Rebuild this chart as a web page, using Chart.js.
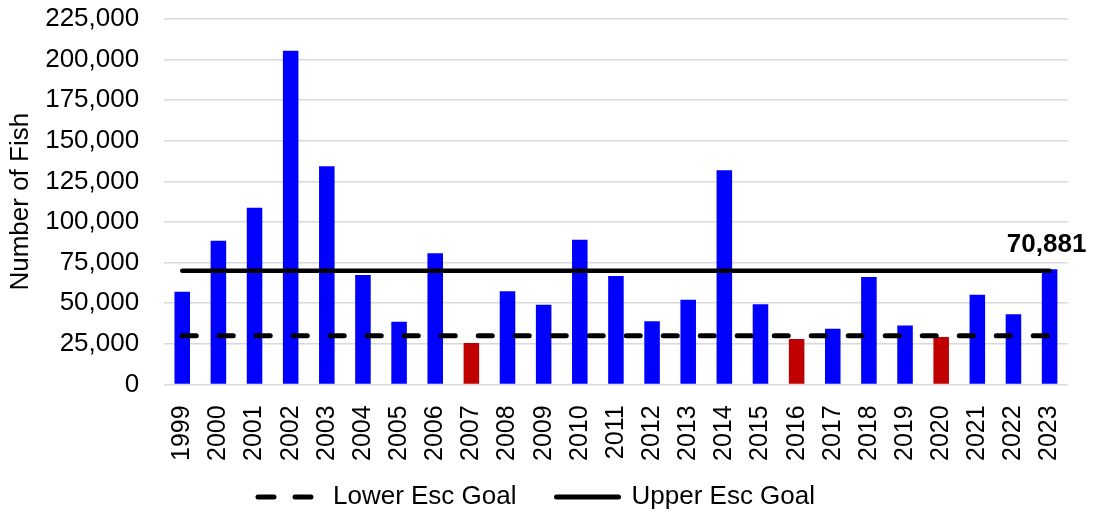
<!DOCTYPE html>
<html>
<head>
<meta charset="utf-8">
<script src="https://cdn.jsdelivr.net/npm/chart.js@4/dist/chart.umd.min.js"></script>
<style>
  html, body { margin: 0; padding: 0; background: #fff; }
  #wrap { width: 1093px; height: 514px; }
</style>
</head>
<body>
<div id="wrap"><canvas id="fishChart"></canvas></div>
<script>
// === Data ===
const years = ["1999","2000","2001","2002","2003","2004","2005","2006","2007","2008","2009","2010","2011","2012","2013","2014","2015","2016","2017","2018","2019","2020","2021","2022","2023"];
const escapement = [57000, 88500, 108700, 205400, 134400, 67300, 38500, 80700, 25500, 57400, 49000, 89100, 66700, 38900, 52100, 131900, 49300, 28000, 34300, 66100, 36200, 29200, 55200, 43200, 70881];
const lowerGoal = [30000, 30000, 30000, 30000, 30000, 30000, 30000, 30000, 30000, 30000, 30000, 30000, 30000, 30000, 30000, 30000, 30000, 30000, 30000, 30000, 30000, 30000, 30000, 30000, 30000];
const upperGoal = [70000, 70000, 70000, 70000, 70000, 70000, 70000, 70000, 70000, 70000, 70000, 70000, 70000, 70000, 70000, 70000, 70000, 70000, 70000, 70000, 70000, 70000, 70000, 70000, 70000];
const yTicks = [0, 25000, 50000, 75000, 100000, 125000, 150000, 175000, 200000, 225000];
const lastLabel = "70,881";

const FONT = "'Liberation Sans', Arial, sans-serif";
const X_SHRINK = 30;

// bars under the lower goal are red
const barColors = escapement.map((v, i) => v < lowerGoal[i] ? "#c00000" : "#0000ff");

// === Label over the last bar ===
const lastValuePlugin = {
  id: "lastValue",
  afterDatasetsDraw(chart) {
    const meta = chart.getDatasetMeta(2);
    const bar = meta.data[meta.data.length - 1];
    if (!bar) return;
    const ctx = chart.ctx;
    ctx.save();
    ctx.font = "bold 26px " + FONT;
    ctx.fillStyle = "#000";
    ctx.textAlign = "center";
    ctx.textBaseline = "alphabetic";
    ctx.fillText(lastLabel, bar.x - 3, bar.y - 17);
    ctx.restore();
  }
};

// x axis was squeezed so the plot reaches lower; give its labels the room back for clipping
const labelRoomPlugin = {
  id: "labelRoom",
  afterLayout(chart) {
    chart.scales.x.bottom += X_SHRINK;
  }
};

new Chart(document.getElementById("fishChart"), {
  data: {
    labels: years,
    datasets: [
      {
        type: "line",
        label: "Lower Esc Goal",
        data: lowerGoal,
        borderColor: "#000",
        borderWidth: 5,
        borderDash: [14, 23],
        borderCapStyle: "round",
        pointRadius: 0,
        fill: false,
        order: 0
      },
      {
        type: "line",
        label: "Upper Esc Goal",
        data: upperGoal,
        borderColor: "#000",
        borderWidth: 4.5,
        borderCapStyle: "round",
        pointRadius: 0,
        fill: false,
        order: 1
      },
      {
        type: "bar",
        label: "Escapement",
        data: escapement,
        backgroundColor: barColors,
        borderWidth: 0,
        barPercentage: 0.43,
        categoryPercentage: 1,
        order: 2
      }
    ]
  },
  options: {
    responsive: true,
    maintainAspectRatio: false,
    animation: false,
    layout: { padding: { top: 19, right: 20, left: 0, bottom: -6 } },
    plugins: {
      tooltip: { enabled: false },
      legend: {
        position: "bottom",
        labels: {
          usePointStyle: true,
          pointStyle: "line",
          pointStyleWidth: 62,
          padding: 40,
          color: "#000",
          font: { family: FONT, size: 26 },
          // keep only the goal lines, and carry their dash into the legend
          generateLabels: chart => Chart.defaults.plugins.legend.labels.generateLabels(chart)
            .filter(item => item.text !== "Escapement")
            .map(item => {
              const ds = chart.data.datasets[item.datasetIndex];
              item.lineDash = ds.borderDash ? [16, 21] : [];
              item.lineCap = "round";
              item.lineWidth = 5;
              return item;
            })
        }
      }
    },
    scales: {
      x: {
        grid: { display: false },
        border: { display: false },
        ticks: {
          color: "#000",
          font: { family: FONT, size: 25 },
          minRotation: 90,
          maxRotation: 90,
          autoSkip: false,
          padding: 13
        },
        afterFit: axis => { axis.height -= X_SHRINK; }
      },
      y: {
        min: 0,
        max: 225000,
        afterBuildTicks: axis => { axis.ticks = yTicks.map(v => ({ value: v })); },
        grid: { color: "#d9d9d9", lineWidth: 1.5, drawTicks: true, tickLength: 22, tickColor: "rgba(0,0,0,0)" },
        border: { display: false },
        ticks: {
          color: "#000",
          font: { family: FONT, size: 26 },
          padding: 3,
          autoSkip: false,
          callback: v => v.toLocaleString("en-US")
        },
        title: {
          display: true,
          text: "Number of Fish",
          color: "#000",
          font: { family: FONT, size: 26 },
          padding: { top: 5, bottom: 6 }
        }
      }
    }
  },
  plugins: [lastValuePlugin, labelRoomPlugin]
});
</script>
</body>
</html>
